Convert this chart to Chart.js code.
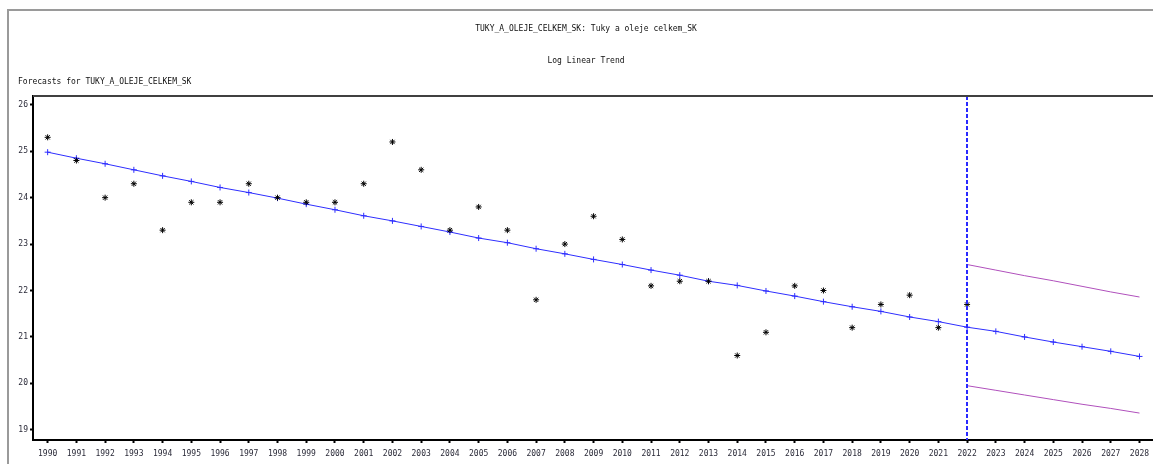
<!DOCTYPE html>
<html>
<head>
<meta charset="utf-8">
<script src="https://cdn.jsdelivr.net/npm/chart.js@4.4.1/dist/chart.umd.min.js"></script>
<style>
  html, body { margin: 0; padding: 0; background: #fff; overflow: hidden; }
  #wrap { width: 1153px; height: 464px; position: relative; }
</style>
</head>
<body>
<div id="wrap"><canvas id="grafico"></canvas></div>
<script>
// dados
var anosReais = [1990, 1991, 1992, 1993, 1994, 1995, 1996, 1997, 1998, 1999, 2000, 2001, 2002, 2003, 2004, 2005,
  2006, 2007, 2008, 2009, 2010, 2011, 2012, 2013, 2014, 2015, 2016, 2017, 2018, 2019, 2020, 2021, 2022];
var valoresReais = [25.3, 24.8, 24.0, 24.3, 23.3, 23.9, 23.9, 24.3, 24.0, 23.9, 23.9, 24.3, 25.2, 24.6, 23.3, 23.8,
  23.3, 21.8, 23.0, 23.6, 23.1, 22.1, 22.2, 22.2, 20.6, 21.1, 22.1, 22.0, 21.2, 21.7, 21.9, 21.2, 21.7];

var anosTrend = [1990, 1991, 1992, 1993, 1994, 1995, 1996, 1997, 1998, 1999, 2000, 2001, 2002, 2003, 2004, 2005,
  2006, 2007, 2008, 2009, 2010, 2011, 2012, 2013, 2014, 2015, 2016, 2017, 2018, 2019, 2020, 2021, 2022,
  2023, 2024, 2025, 2026, 2027, 2028];
var valoresTrend = [24.98, 24.85, 24.73, 24.60, 24.47, 24.35, 24.22, 24.11, 23.99, 23.86, 23.74, 23.61, 23.50, 23.38,
  23.26, 23.13, 23.03, 22.90, 22.79, 22.67, 22.56, 22.44, 22.33, 22.20, 22.11, 21.99, 21.88, 21.76, 21.65, 21.55,
  21.43, 21.33, 21.21, 21.12, 21.00, 20.89, 20.79, 20.69, 20.58];

var anosPrevisao = [2022, 2023, 2024, 2025, 2026, 2027, 2028];
var limiteSuperior = [22.56, 22.44, 22.32, 22.21, 22.09, 21.97, 21.86];
var limiteInferior = [19.95, 19.85, 19.75, 19.65, 19.55, 19.46, 19.36];

var inicioPrevisao = 2022;
var ticksY = [19, 20, 21, 22, 23, 24, 25, 26];
var ticksX = anosTrend;

var titulo = "TUKY_A_OLEJE_CELKEM_SK: Tuky a oleje celkem_SK";
var subtitulo = "Log Linear Trend";
var rotulo = "Forecasts for TUKY_A_OLEJE_CELKEM_SK";

function pontos(xs, ys) {
  var r = [];
  for (var i = 0; i < xs.length; i++) {
    r.push({ x: xs[i], y: ys[i] });
  }
  return r;
}

var fonte = "DejaVu Sans Mono";

// moldura, textos e linha pontilhada
var extras = {
  id: "extras",
  beforeDraw: function (chart) {
    var c = chart.ctx;
    c.save();
    c.strokeStyle = "#9a9a9a";
    c.lineWidth = 2;
    c.beginPath();
    c.moveTo(8, 464);
    c.lineTo(8, 10);
    c.lineTo(1160, 10);
    c.stroke();

    c.fillStyle = "#111";
    c.font = "8px '" + fonte + "'";
    c.textBaseline = "middle";
    c.textAlign = "center";
    c.fillText(titulo, 586, 29);
    c.fillText(subtitulo, 586, 61);
    c.textAlign = "left";
    c.fillText(rotulo, 18, 82);
    c.restore();
  },
  afterDatasetsDraw: function (chart) {
    var c = chart.ctx;
    var a = chart.chartArea;
    var x = Math.round(chart.scales.x.getPixelForValue(inicioPrevisao));
    c.save();
    c.strokeStyle = "#2a2aff";
    c.lineWidth = 2;
    c.setLineDash([4, 2]);
    c.beginPath();
    c.moveTo(x, a.top);
    c.lineTo(x, a.bottom);
    c.stroke();
    c.setLineDash([]);
    c.strokeStyle = "#404040";
    c.lineWidth = 2;
    c.beginPath();
    c.moveTo(a.left, a.top);
    c.lineTo(a.right + 2, a.top);
    c.stroke();
    c.restore();
  }
};

var ctx = document.getElementById("grafico").getContext("2d");

var grafico = new Chart(ctx, {
  type: "line",
  data: {
    datasets: [
      {
        label: "Actual",
        data: pontos(anosReais, valoresReais),
        showLine: false,
        pointStyle: "star",
        pointRadius: 3,
        borderWidth: 1,
        borderColor: "#000",
        backgroundColor: "#000"
      },
      {
        label: "Trend",
        data: pontos(anosTrend, valoresTrend),
        borderColor: "#2e2eff",
        backgroundColor: "#2e2eff",
        borderWidth: 1,
        pointStyle: "cross",
        pointRadius: 3,
        pointBorderWidth: 1
      },
      {
        label: "Upper",
        data: pontos(anosPrevisao, limiteSuperior),
        borderColor: "#b050bc",
        borderWidth: 1,
        pointRadius: 0
      },
      {
        label: "Lower",
        data: pontos(anosPrevisao, limiteInferior),
        borderColor: "#b050bc",
        borderWidth: 1,
        pointRadius: 0
      }
    ]
  },
  options: {
    responsive: true,
    maintainAspectRatio: false,
    animation: false,
    layout: { autoPadding: false, padding: { top: 96, left: 0, right: 0, bottom: 0 } },
    plugins: {
      legend: { display: false },
      tooltip: { enabled: false }
    },
    elements: { line: { tension: 0 } },
    scales: {
      x: {
        type: "linear",
        min: 1989.49,
        max: 2028.47,
        afterBuildTicks: function (s) {
          s.ticks = ticksX.map(function (v) { return { value: v }; });
        },
        afterFit: function (s) {
          s.height = 24;
          s.paddingLeft = 0;
          s.paddingRight = 0;
        },
        grid: {
          drawOnChartArea: false,
          tickLength: 3,
          tickWidth: 2,
          tickColor: "#000"
        },
        border: { color: "#000", width: 2 },
        ticks: {
          autoSkip: false,
          maxRotation: 0,
          padding: 6,
          color: "#2a2a38",
          font: { family: fonte, size: 8 },
          callback: function (v) { return String(v); }
        }
      },
      y: {
        min: 18.78,
        max: 26.19,
        afterBuildTicks: function (s) {
          s.ticks = ticksY.map(function (v) { return { value: v }; });
        },
        afterFit: function (s) {
          s.width = 33;
          s.paddingTop = 0;
          s.paddingBottom = 0;
        },
        grid: {
          drawOnChartArea: false,
          tickLength: 3,
          tickWidth: 2,
          tickColor: "#000"
        },
        border: { color: "#000", width: 2 },
        ticks: {
          padding: 2,
          color: "#2a2a38",
          font: { family: fonte, size: 8 }
        }
      }
    }
  },
  plugins: [extras]
});
</script>
</body>
</html>
